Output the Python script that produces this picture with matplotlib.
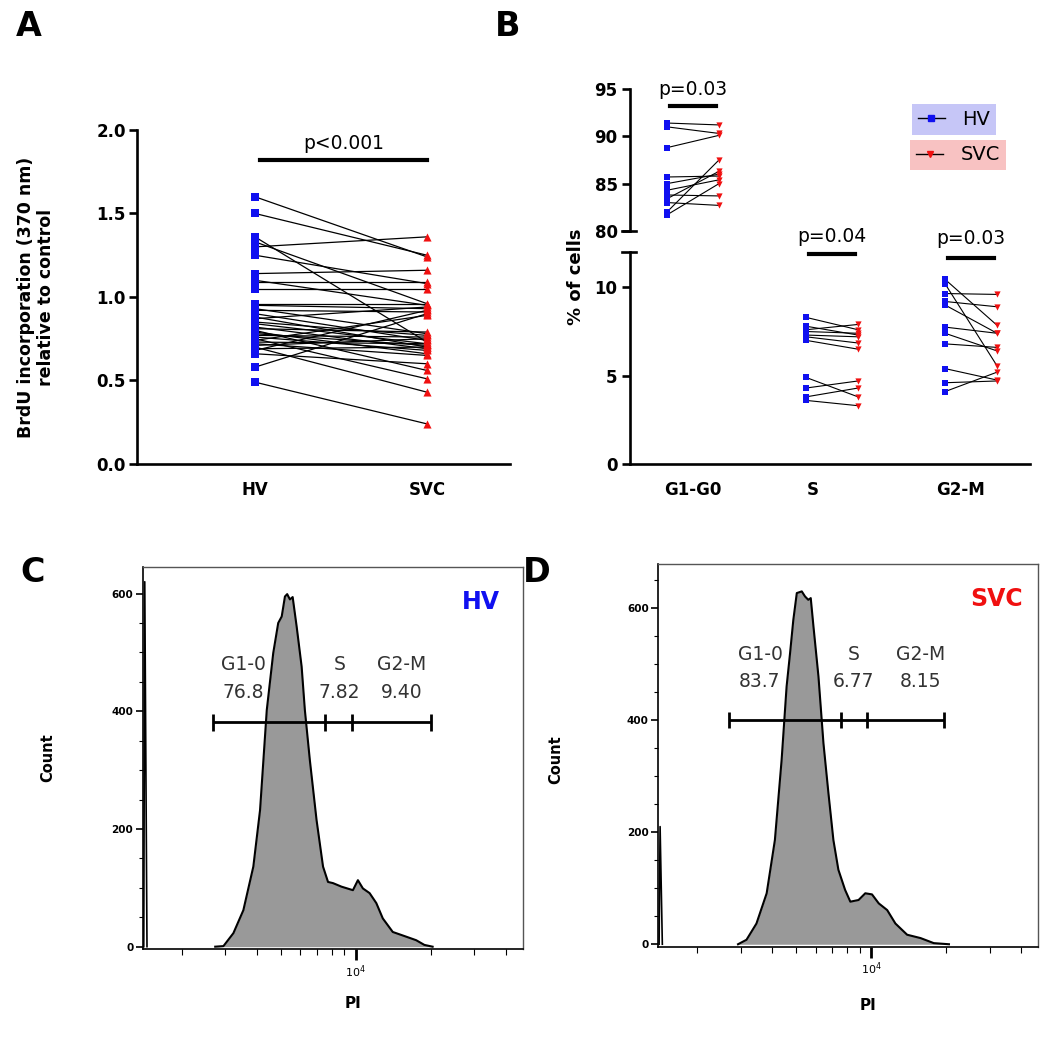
import numpy as np
import matplotlib
matplotlib.use("Agg")
import matplotlib.pyplot as plt
from matplotlib.lines import Line2D
from matplotlib.ticker import MultipleLocator, LogLocator, NullFormatter

# A: BrdU incorporation (370 nm) relative to control, paired HV -> SVC
brdu_groups = ["HV", "SVC"]
brdu_hv = [1.60, 1.50, 1.36, 1.33, 1.30, 1.25, 1.14, 1.09, 1.05, 1.10,
           0.96, 0.95, 0.93, 0.92, 0.90, 0.88, 0.87, 0.85, 0.84, 0.82,
           0.81, 0.80, 0.79, 0.78, 0.77, 0.76, 0.75, 0.74, 0.73, 0.72,
           0.71, 0.70, 0.69, 0.68, 0.66, 0.58, 0.49]
brdu_svc = [1.24, 1.25, 0.73, 0.96, 1.36, 1.08, 1.16, 1.09, 1.05, 0.95,
            0.96, 0.93, 0.78, 0.91, 0.74, 0.70, 0.94, 0.77, 0.72, 0.69,
            0.79, 0.56, 0.66, 0.71, 0.76, 0.68, 0.51, 0.89, 0.72, 0.65,
            0.75, 0.43, 0.70, 0.92, 0.60, 0.90, 0.24]
brdu_p = "p<0.001"

# B: cell cycle phases, % of cells
phases = ["G1-G0", "S", "G2-M"]
g1_hv = [91.4, 91.0, 88.8, 85.7, 85.0, 84.3, 83.8, 83.4, 83.0, 82.0, 81.7]
g1_svc = [91.2, 90.3, 90.1, 85.8, 86.0, 85.4, 83.7, 86.3, 82.7, 87.5, 85.0]
s_hv = [8.3, 7.8, 7.6, 7.5, 7.3, 7.2, 7.0, 4.9, 4.3, 3.8, 3.6]
s_svc = [7.6, 7.3, 7.9, 7.4, 7.2, 6.85, 6.5, 3.8, 4.7, 4.3, 3.3]
g2_hv = [10.45, 10.2, 9.65, 9.2, 9.0, 7.75, 7.4, 6.8, 5.4, 4.6, 4.1]
g2_svc = [7.85, 5.55, 9.6, 8.9, 7.4, 7.4, 6.4, 6.6, 4.75, 4.7, 5.2]
phase_p = ["p=0.03", "p=0.04", "p=0.03"]

# C, D: PI histograms (log10 PI, count)
hv_logpi = [3.436, 3.469, 3.509, 3.549, 3.589, 3.616, 3.643, 3.669, 3.689, 3.703,
            3.716, 3.725, 3.736, 3.747, 3.763, 3.783, 3.796, 3.816, 3.843, 3.869,
            3.889, 3.909, 3.943, 3.989, 4.009, 4.029, 4.056, 4.083, 4.109, 4.149,
            4.203, 4.243, 4.276, 4.309]
hv_count = [0, 1, 23, 62, 136, 232, 402, 499, 550, 561,
            595, 599, 590, 594, 544, 476, 402, 317, 215, 136,
            110, 108, 102, 96, 113, 99, 91, 74, 48, 25,
            17, 11, 3, 0]
svc_logpi = [3.466, 3.500, 3.540, 3.581, 3.614, 3.641, 3.661, 3.675, 3.688, 3.702,
             3.722, 3.735, 3.748, 3.758, 3.769, 3.789, 3.809, 3.829, 3.849, 3.869,
             3.896, 3.917, 3.950, 3.977, 4.004, 4.031, 4.065, 4.098, 4.145, 4.199,
             4.252, 4.313]
svc_count = [0, 8, 37, 91, 186, 329, 460, 520, 579, 627,
             630, 621, 615, 618, 567, 478, 359, 270, 186, 133,
             97, 76, 79, 91, 89, 73, 61, 37, 17, 11,
             2, 0]
hv_debris = 620
svc_debris = 210
gate_names = ["G1-0", "S", "G2-M"]
hv_gate = [3.429, 3.876, 3.987, 4.303]
svc_gate = [3.430, 3.879, 3.984, 4.293]
hv_pct = ["76.8", "7.82", "9.40"]
svc_pct = ["83.7", "6.77", "8.15"]

BLUE = "#1010f0"
RED = "#f01010"

fig = plt.figure(figsize=(10.5, 10.38), dpi=100)


def style_prism(ax):
    for side in ["top", "right"]:
        ax.spines[side].set_visible(False)
    for side in ["left", "bottom"]:
        ax.spines[side].set_linewidth(1.9)
    ax.tick_params(width=1.9, length=6, labelsize=12)
    for lab in ax.get_xticklabels() + ax.get_yticklabels():
        lab.set_fontweight("bold")


# ---------------- panel A
axA = fig.add_axes([0.1305, 0.553, 0.3552, 0.3218])
for h, s in zip(brdu_hv, brdu_svc):
    axA.plot([0, 1], [h, s], color="black", lw=0.9, zorder=1)
axA.scatter(np.zeros(len(brdu_hv)), brdu_hv, marker="s", s=26, color=BLUE,
            linewidths=0, zorder=3)
axA.scatter(np.ones(len(brdu_svc)), brdu_svc, marker="^", s=34, color=RED,
            linewidths=0, zorder=3)
axA.set_xlim(-0.686, 1.483)
axA.set_ylim(0, 2.0)
axA.set_yticks([0, 0.5, 1.0, 1.5, 2.0])
axA.set_yticklabels(["0.0", "0.5", "1.0", "1.5", "2.0"])
axA.set_xticks([0, 1])
axA.set_xticklabels(brdu_groups)
style_prism(axA)
axA.tick_params(axis="y", pad=2)
axA.tick_params(axis="x", pad=12, length=0)
axA.plot([0.03, 1.0], [1.82, 1.82], color="black", lw=3, clip_on=False)
axA.text(0.517, 1.865, brdu_p, ha="center", va="bottom", fontsize=13.5)
fig.text(36 / 1050, 1 - 297 / 1038,
         "BrdU incorporation (370 nm)\nrelative to control",
         rotation=90, ha="center", va="center", fontsize=12.5,
         fontweight="bold", multialignment="center")

# ---------------- panel B (broken y axis)
off = 0.187
axBl = fig.add_axes([0.6, 0.553, 0.381, 0.2042])
axBu = fig.add_axes([0.6, 0.7775, 0.381, 0.1368])
for ax in (axBl, axBu):
    ax.set_xlim(-0.453, 2.424)
    ax.patch.set_visible(False)

for h, s in zip(g1_hv, g1_svc):
    axBu.plot([-off, off], [h, s], color="black", lw=0.8, zorder=1)
axBu.scatter(np.full(len(g1_hv), -off), g1_hv, marker="s", s=16, color=BLUE,
             linewidths=0, zorder=3)
axBu.scatter(np.full(len(g1_svc), off), g1_svc, marker="v", s=20, color=RED,
             linewidths=0, zorder=3)

for c, hv, svc in [(1, s_hv, s_svc), (2, g2_hv, g2_svc)]:
    for h, s in zip(hv, svc):
        axBl.plot([c - off, c + off], [h, s], color="black", lw=0.8, zorder=1)
    axBl.scatter(np.full(len(hv), c - off), hv, marker="s", s=16, color=BLUE,
                 linewidths=0, zorder=3)
    axBl.scatter(np.full(len(svc), c + off), svc, marker="v", s=20, color=RED,
                 linewidths=0, zorder=3)

axBu.set_ylim(80, 95)
axBu.set_yticks([80, 85, 90, 95])
axBu.spines["bottom"].set_visible(False)
axBu.set_xticks([])
axBl.set_ylim(0, 12)
axBl.set_yticks([0, 5, 10])
axBl.set_xticks([0, 0.863, 1.921])
axBl.set_xticklabels(phases)
style_prism(axBu)
style_prism(axBl)
axBu.tick_params(axis="y", pad=3)
axBl.tick_params(axis="y", pad=3)
axBl.tick_params(axis="x", pad=12, length=0)
# break caps
axBu.plot([-0.02, 0.016], [0, 0], transform=axBu.transAxes, color="black",
          lw=1.9, clip_on=False)
axBl.plot([-0.02, 0.016], [1, 1], transform=axBl.transAxes, color="black",
          lw=1.9, clip_on=False)

axBu.plot([-0.165, 0.165], [93.15, 93.15], color="black", lw=3, clip_on=False)
axBu.text(0, 93.9, phase_p[0], ha="center", va="bottom", fontsize=13.5)
axBl.plot([1 - 0.165, 1 + 0.165], [11.86, 11.86], color="black", lw=3, clip_on=False)
axBl.text(1, 12.35, phase_p[1], ha="center", va="bottom", fontsize=13.5,
          clip_on=False, zorder=5)
axBl.plot([2 - 0.165, 2 + 0.165], [11.69, 11.69], color="black", lw=3, clip_on=False)
axBl.text(2, 12.25, phase_p[2], ha="center", va="bottom", fontsize=13.5,
          clip_on=False, zorder=5)

fig.text(576 / 1050, 1 - 277 / 1038, "% of cells", rotation=90, ha="center",
         va="center", fontsize=13, fontweight="bold")

h_hv = Line2D([0], [0], color="black", lw=1, marker="s", ms=4,
              mfc=BLUE, mec=BLUE, label="HV")
h_svc = Line2D([0], [0], color="black", lw=1, marker="v", ms=4.5,
               mfc=RED, mec=RED, label="SVC")
leg1 = fig.legend(handles=[h_hv], loc="center", bbox_to_anchor=(0.9086, 0.8849),
                  frameon=True, fancybox=False, facecolor="#c6c6f7",
                  edgecolor="none", framealpha=1, fontsize=14,
                  handlelength=1.4, handletextpad=0.9, borderpad=0.3)
fig.add_artist(leg1)
fig.legend(handles=[h_svc], loc="center", bbox_to_anchor=(0.9124, 0.8507),
           frameon=True, fancybox=False, facecolor="#f8c2c2",
           edgecolor="none", framealpha=1, fontsize=14,
           handlelength=1.4, handletextpad=0.9, borderpad=0.3)


# ---------------- panels C and D: flow histograms
def draw_hist(ax, logpi, count, debris, gate, pct, gate_y, name, color,
              ylim, label_x, label_y):
    pi = 10 ** np.array(logpi)
    ax.set_xscale("log")
    ax.fill_between(pi, count, 0, color="#999999", lw=0, zorder=1)
    ax.plot(pi, count, color="black", lw=1.5, zorder=2)
    ax.plot(10 ** np.array([3.149, 3.153, 3.162]), [0, debris, 0],
            color="black", lw=1.2, zorder=2)
    g = 10 ** np.array(gate)
    ax.hlines(gate_y, g[0], g[-1], color="black", lw=2, zorder=3)
    ax.vlines(g, gate_y - 14, gate_y + 14, color="black", lw=2, zorder=3)
    for lx, nm, pc in zip(label_x, gate_names, pct):
        ax.text(10 ** lx, label_y[0], nm, ha="center", va="center",
                fontsize=13.5, color="#333333")
        ax.text(10 ** lx, label_y[1], pc, ha="center", va="center",
                fontsize=13.5, color="#333333")
    ax.text(0.89, 0.908, name, transform=ax.transAxes, ha="center",
            va="center", fontsize=17, fontweight="bold", color=color)
    ax.set_xlim(10 ** 3.146, 10 ** 4.672)
    ax.set_ylim(*ylim)
    ax.yaxis.set_major_locator(MultipleLocator(200))
    ax.yaxis.set_minor_locator(MultipleLocator(50))
    ax.set_xticks([1e4])
    ax.set_xticklabels(["$10^4$"])
    ax.xaxis.set_minor_locator(LogLocator(base=10, subs=range(2, 10)))
    ax.xaxis.set_minor_formatter(NullFormatter())
    ax.tick_params(axis="y", which="major", length=5, width=1.2,
                   labelsize=7.5, pad=2)
    ax.tick_params(axis="y", which="minor", length=3, width=0.8)
    ax.tick_params(axis="x", which="major", length=8, width=2, labelsize=8, pad=2)
    ax.tick_params(axis="x", which="minor", length=4, width=0.8)
    for lab in ax.get_yticklabels():
        lab.set_fontweight("bold")
    for side in ["top", "right"]:
        ax.spines[side].set_linewidth(1.0)
        ax.spines[side].set_color("#555555")
    for side in ["left", "bottom"]:
        ax.spines[side].set_linewidth(1.2)


axC = fig.add_axes([0.1362, 0.0857, 0.3619, 0.368])
draw_hist(axC, hv_logpi, hv_count, hv_debris, hv_gate, hv_pct, 381, "HV",
          BLUE, (-4, 645), [3.549, 3.936, 4.183], (480, 432))
axD = fig.add_axes([0.627, 0.088, 0.3619, 0.3687])
draw_hist(axD, svc_logpi, svc_count, svc_debris, svc_gate, svc_pct, 400, "SVC",
          RED, (-4.3, 679), [3.554, 3.930, 4.199], (518, 469))

fig.text(48 / 1050, 1 - 758 / 1038, "Count", rotation=90, ha="center",
         va="center", fontsize=10.5, fontweight="bold")
fig.text(556 / 1050, 1 - 760 / 1038, "Count", rotation=90, ha="center",
         va="center", fontsize=10.5, fontweight="bold")
fig.text(353 / 1050, 1 - 1003 / 1038, "PI", ha="center", va="center",
         fontsize=11, fontweight="bold")
fig.text(868 / 1050, 1 - 1006 / 1038, "PI", ha="center", va="center",
         fontsize=11, fontweight="bold")

# panel letters
for letter, (px, py) in {"A": (29, 27), "B": (508, 27),
                         "C": (33, 572), "D": (537, 572)}.items():
    fig.text(px / 1050, 1 - py / 1038, letter, ha="center", va="center",
             fontsize=24, fontweight="bold")

fig.savefig("out.png", dpi=100)
